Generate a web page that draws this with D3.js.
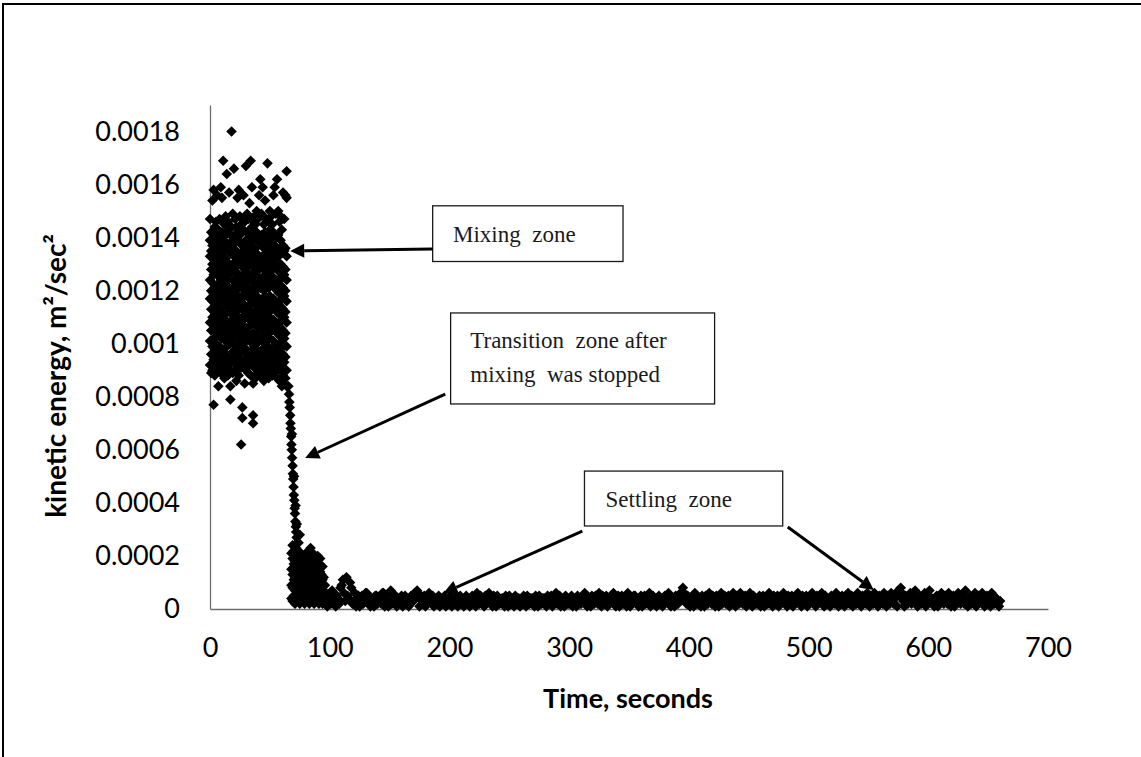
<!DOCTYPE html>
<html>
<head>
<meta charset="utf-8">
<script src="https://cdn.jsdelivr.net/npm/d3@7"></script>
<style>
  html, body { margin: 0; padding: 0; background: #fff; }
  svg { display: block; }
</style>
</head>
<body>
<div id="chart"></div>
<script>
'use strict';

// kinetic energy values below are in units of 1e-5 m2/sec2

// mixing zone: [time, [values at that second]]
var mixingZone = [
  [0, [92, 101, 108, 117, 124, 133, 139, 147]],
  [1, [96, 105, 113, 120, 128, 135, 142, 89]],
  [2, [90, 99, 110, 116, 123, 130, 137, 154]],
  [3, [94, 102, 107, 119, 126, 134, 141, 158, 77]],
  [4, [88, 97, 106, 114, 121, 129, 136, 144]],
  [5, [93, 100, 111, 118, 127, 132, 140, 146]],
  [6, [91, 104, 109, 115, 122, 131, 138, 156]],
  [7, [84, 95, 103, 112, 120, 128, 135, 143]],
  [8, [92, 99, 108, 117, 125, 133, 140, 147]],
  [9, [89, 98, 106, 113, 124, 130, 137, 159]],
  [10, [94, 102, 110, 119, 126, 134, 142, 155]],
  [11, [90, 97, 105, 116, 123, 129, 139, 169]],
  [12, [87, 96, 104, 111, 121, 128, 136, 145]],
  [13, [93, 101, 109, 118, 125, 132, 141, 148]],
  [14, [91, 99, 107, 114, 122, 131, 138, 164]],
  [15, [88, 95, 106, 115, 124, 130, 137, 146]],
  [16, [92, 100, 108, 117, 126, 135, 143, 157]],
  [17, [79, 84, 90, 103, 112, 120, 127, 134, 141]],
  [18, [94, 102, 111, 119, 128, 136, 144, 180]],
  [19, [89, 97, 105, 113, 121, 129, 139, 149]],
  [20, [93, 100, 109, 116, 124, 133, 140, 166]],
  [21, [90, 98, 107, 115, 123, 131, 138, 147]],
  [22, [86, 95, 104, 112, 120, 127, 135, 144]],
  [23, [92, 101, 110, 118, 126, 134, 142, 155]],
  [24, [88, 96, 106, 114, 122, 130, 139, 158]],
  [25, [94, 103, 108, 117, 125, 132, 141, 148]],
  [26, [62, 91, 99, 107, 116, 124, 133, 145]],
  [27, [72, 76, 97, 105, 113, 121, 129, 137]],
  [28, [93, 100, 109, 118, 126, 135, 143, 156]],
  [29, [85, 92, 102, 111, 119, 128, 136, 146]],
  [30, [90, 98, 106, 114, 123, 131, 139, 167]],
  [31, [95, 103, 112, 120, 127, 134, 142, 149]],
  [32, [89, 96, 104, 113, 121, 129, 138, 147]],
  [33, [92, 101, 109, 117, 125, 133, 140, 153]],
  [34, [88, 97, 107, 115, 124, 131, 137, 169]],
  [35, [94, 102, 110, 118, 126, 135, 144, 159]],
  [36, [70, 73, 85, 93, 104, 112, 121, 130, 139, 146]],
  [37, [91, 99, 108, 116, 123, 132, 141, 148]],
  [38, [87, 95, 103, 112, 120, 128, 136, 145]],
  [39, [93, 100, 109, 118, 127, 134, 142, 150]],
  [40, [89, 97, 106, 114, 122, 130, 139, 147]],
  [41, [92, 101, 110, 117, 125, 133, 140, 156]],
  [42, [88, 96, 105, 113, 121, 129, 138, 162]],
  [43, [94, 102, 108, 116, 124, 132, 141, 149]],
  [44, [90, 98, 107, 115, 123, 131, 139, 159]],
  [45, [86, 95, 103, 111, 120, 128, 136, 145]],
  [46, [93, 100, 109, 118, 126, 134, 142, 154]],
  [47, [89, 97, 106, 114, 122, 130, 138, 147]],
  [48, [91, 99, 108, 116, 124, 133, 141, 168]],
  [49, [87, 96, 104, 112, 121, 129, 137, 146]],
  [50, [94, 102, 110, 118, 127, 135, 143, 150]],
  [51, [90, 98, 107, 115, 123, 131, 139, 148]],
  [52, [88, 95, 105, 113, 122, 130, 138, 145]],
  [53, [92, 101, 109, 117, 125, 134, 142, 156]],
  [54, [89, 97, 106, 114, 121, 129, 137, 159]],
  [55, [93, 100, 108, 116, 124, 132, 140, 149]],
  [56, [87, 96, 104, 112, 120, 128, 136, 162]],
  [57, [91, 99, 107, 115, 124, 133, 141, 150]],
  [58, [86, 94, 103, 111, 119, 127, 135, 146]],
  [59, [90, 98, 106, 114, 122, 130, 139, 148]],
  [60, [84, 92, 101, 109, 117, 125, 134, 143]],
  [61, [88, 96, 105, 113, 121, 129, 137, 157]],
  [62, [85, 93, 102, 110, 118, 126, 135, 147]],
  [63, [87, 95, 104, 112, 120, 128, 136, 156]],
  [64, [84, 90, 99, 108, 116, 124, 133, 155, 165]]
];

// drop after the mixer was stopped: [time, value]
var transitionZone = [
  [65.5, 84], [66, 81], [66.3, 78], [66.6, 76], [67, 73], [67.2, 70],
  [67.5, 68], [67.8, 65], [68.4, 66], [68, 62], [68.3, 60], [68.6, 57], [69, 54],
  [69.2, 51], [69.5, 49], [70.2, 50], [69.8, 46], [70, 43], [70.4, 41], [70.7, 38],
  [71.5, 39], [71, 36], [71.3, 33], [71.7, 31], [72.5, 32], [72, 29], [72.4, 27], [72.8, 25]
];

// low cluster right after the drop: [time, [values]]
var transitionFloor = [
  [68, [4, 9, 15, 21]], [69, [3, 8, 13, 19, 24]], [70, [5, 11, 17, 22]],
  [71, [2, 7, 12, 18]], [72, [4, 10, 16, 23]], [73, [3, 8, 14, 20]],
  [74, [5, 11, 17, 25]], [75, [2, 7, 13, 19, 28]], [76, [4, 9, 15, 21]],
  [77, [3, 10, 16]], [78, [5, 8, 14, 19]], [79, [2, 7, 12, 18]],
  [80, [4, 10, 15, 21]], [81, [3, 8, 13, 17]], [82, [5, 11, 16, 20]],
  [83, [2, 7, 12, 19]], [84, [4, 9, 14, 20, 23]], [85, [3, 8, 13, 18]],
  [86, [5, 10, 15, 21]], [87, [2, 7, 12, 17]], [88, [4, 9, 14, 19]],
  [89, [3, 8, 13, 16]], [90, [5, 10, 16, 20]], [91, [2, 7, 12, 17]],
  [92, [4, 9, 14, 19]], [93, [3, 8, 13]], [94, [2, 6, 11, 16]],
  [95, [3, 7, 12]], [96, [2, 5, 9]]
];

// settling zone, odd seconds: [time, value]
var settlingZone = [
  [97, 3], [99, 5], [101, 2], [103, 6], [105, 1], [107, 4], [109, 8], [111, 11], [113, 3], [115, 5],
  [117, 10], [119, 2], [121, 6], [123, 4], [125, 1], [127, 5], [129, 3], [131, 6], [133, 2], [135, 4],
  [137, 1], [139, 5], [141, 3], [143, 2], [145, 6], [147, 4], [149, 1], [151, 7], [153, 3], [155, 5],
  [157, 2], [159, 4], [161, 1], [163, 5], [165, 3], [167, 2], [169, 4], [171, 6], [173, 7], [175, 1],
  [177, 3], [179, 5], [181, 2], [183, 6], [185, 4], [187, 1], [189, 3], [191, 5], [193, 2], [195, 4],
  [197, 1], [199, 3], [201, 5], [203, 2], [205, 4], [207, 1], [209, 5], [211, 3], [213, 2], [215, 4],
  [217, 1], [219, 5], [221, 3], [223, 6], [225, 2], [227, 4], [229, 1], [231, 3], [233, 6], [235, 2],
  [237, 5], [239, 1], [241, 4], [243, 3], [245, 2], [247, 5], [249, 1], [251, 4], [253, 3], [255, 5],
  [257, 2], [259, 1], [261, 4], [263, 3], [265, 5], [267, 2], [269, 4], [271, 1], [273, 3], [275, 5],
  [277, 2], [279, 4], [281, 1], [283, 3], [285, 5], [287, 2], [289, 6], [291, 4], [293, 1], [295, 3],
  [297, 5], [299, 2], [301, 4], [303, 1], [305, 3], [307, 5], [309, 2], [311, 4], [313, 6], [315, 1],
  [317, 3], [319, 5], [321, 2], [323, 4], [325, 6], [327, 1], [329, 3], [331, 5], [333, 2], [335, 4],
  [337, 6], [339, 1], [341, 5], [343, 3], [345, 2], [347, 4], [349, 6], [351, 1], [353, 3], [355, 5],
  [357, 2], [359, 4], [361, 1], [363, 5], [365, 3], [367, 6], [369, 2], [371, 4], [373, 1], [375, 5],
  [377, 3], [379, 2], [381, 4], [383, 6], [385, 1], [387, 3], [389, 5], [391, 2], [393, 6], [395, 8],
  [397, 3], [399, 5], [401, 1], [403, 4], [405, 6], [407, 2], [409, 3], [411, 5], [413, 1], [415, 4],
  [417, 6], [419, 2], [421, 3], [423, 5], [425, 1], [427, 6], [429, 4], [431, 2], [433, 5], [435, 3],
  [437, 6], [439, 1], [441, 4], [443, 6], [445, 2], [447, 5], [449, 3], [451, 6], [453, 1], [455, 4],
  [457, 2], [459, 5], [461, 3], [463, 1], [465, 4], [467, 6], [469, 2], [471, 5], [473, 3], [475, 1],
  [477, 4], [479, 6], [481, 2], [483, 5], [485, 3], [487, 1], [489, 4], [491, 6], [493, 2], [495, 5],
  [497, 3], [499, 1], [501, 4], [503, 6], [505, 2], [507, 5], [509, 3], [511, 6], [513, 1], [515, 4],
  [517, 2], [519, 5], [521, 3], [523, 6], [525, 1], [527, 4], [529, 2], [531, 5], [533, 6], [535, 3],
  [537, 1], [539, 4], [541, 6], [543, 2], [545, 5], [547, 3], [549, 6], [551, 1], [553, 4], [555, 6],
  [557, 2], [559, 5], [561, 3], [563, 6], [565, 1], [567, 4], [569, 6], [571, 2], [573, 5], [575, 7],
  [577, 8], [579, 3], [581, 5], [583, 2], [585, 6], [587, 4], [589, 7], [591, 1], [593, 5], [595, 3],
  [597, 6], [599, 2], [601, 7], [603, 4], [605, 1], [607, 5], [609, 3], [611, 6], [613, 2], [615, 4],
  [617, 6], [619, 1], [621, 5], [623, 3], [625, 6], [627, 2], [629, 4], [631, 7], [633, 1], [635, 5],
  [637, 3], [639, 6], [641, 2], [643, 4], [645, 6], [647, 1], [649, 5], [651, 3], [653, 6], [655, 2],
  [657, 4], [659, 1]
];

// settling zone, even seconds: [time, value]
var settlingZoneEven = [
  [98, 1], [100, 4], [102, 7], [104, 3], [106, 5], [108, 2], [110, 9], [112, 6], [114, 12], [116, 4],
  [118, 8], [120, 3], [122, 1], [124, 5], [126, 3], [128, 2], [130, 6], [132, 4], [134, 1], [136, 3],
  [138, 5], [140, 2], [142, 4], [144, 6], [146, 1], [148, 3], [150, 6], [152, 2], [154, 4], [156, 1],
  [158, 3], [160, 5], [162, 2], [164, 4], [166, 1], [168, 5], [170, 3], [172, 5], [174, 6], [176, 4],
  [178, 2], [180, 1], [182, 4], [184, 3], [186, 5], [188, 2], [190, 4], [192, 1], [194, 3], [196, 5],
  [198, 2], [200, 4], [202, 1], [204, 3], [206, 5], [208, 2], [210, 4], [212, 1], [214, 5], [216, 3],
  [218, 2], [220, 4], [222, 1], [224, 3], [226, 5], [228, 2], [230, 5], [232, 3], [234, 4], [236, 1],
  [238, 3], [240, 5], [242, 2], [244, 4], [246, 1], [248, 3], [250, 5], [252, 2], [254, 1], [256, 3],
  [258, 4], [260, 2], [262, 5], [264, 1], [266, 3], [268, 4], [270, 2], [272, 5], [274, 1], [276, 3],
  [278, 4], [280, 2], [282, 5], [284, 3], [286, 1], [288, 4], [290, 2], [292, 5], [294, 3], [296, 1],
  [298, 4], [300, 2], [302, 5], [304, 3], [306, 1], [308, 4], [310, 2], [312, 5], [314, 3], [316, 4],
  [318, 1], [320, 3], [322, 5], [324, 2], [326, 4], [328, 5], [330, 2], [332, 1], [334, 3], [336, 5],
  [338, 2], [340, 4], [342, 1], [344, 5], [346, 3], [348, 1], [350, 4], [352, 2], [354, 5], [356, 3],
  [358, 1], [360, 5], [362, 3], [364, 2], [366, 4], [368, 1], [370, 5], [372, 3], [374, 2], [376, 4],
  [378, 1], [380, 5], [382, 3], [384, 2], [386, 4], [388, 1], [390, 4], [392, 3], [394, 5], [396, 6],
  [398, 2], [400, 4], [402, 3], [404, 1], [406, 5], [408, 4], [410, 1], [412, 3], [414, 5], [416, 2],
  [418, 4], [420, 5], [422, 1], [424, 3], [426, 4], [428, 2], [430, 5], [432, 3], [434, 1], [436, 4],
  [438, 3], [440, 5], [442, 2], [444, 3], [446, 4], [448, 1], [450, 4], [452, 3], [454, 5], [456, 2],
  [458, 4], [460, 1], [462, 5], [464, 3], [466, 2], [468, 4], [470, 1], [472, 3], [474, 5], [476, 2],
  [478, 3], [480, 4], [482, 1], [484, 3], [486, 5], [488, 2], [490, 3], [492, 4], [494, 1], [496, 3],
  [498, 5], [500, 2], [502, 3], [504, 4], [506, 1], [508, 3], [510, 4], [512, 2], [514, 5], [516, 3],
  [518, 1], [520, 4], [522, 2], [524, 4], [526, 3], [528, 5], [530, 1], [532, 3], [534, 2], [536, 5],
  [538, 3], [540, 2], [542, 4], [544, 1], [546, 3], [548, 2], [550, 4], [552, 5], [554, 2], [556, 4],
  [558, 1], [560, 3], [562, 2], [564, 4], [566, 5], [568, 2], [570, 3], [572, 4], [574, 1], [576, 5],
  [578, 6], [580, 1], [582, 4], [584, 3], [586, 2], [588, 5], [590, 4], [592, 3], [594, 2], [596, 4],
  [598, 1], [600, 5], [602, 3], [604, 2], [606, 4], [608, 1], [610, 4], [612, 3], [614, 5], [616, 2],
  [618, 4], [620, 3], [622, 1], [624, 4], [626, 3], [628, 5], [630, 2], [632, 4], [634, 3], [636, 2],
  [638, 4], [640, 1], [642, 5], [644, 3], [646, 2], [648, 4], [650, 2], [652, 1], [654, 4], [656, 3],
  [658, 2], [660, 3]
];

var xTicks = [0, 100, 200, 300, 400, 500, 600, 700];
var yTicks = [0, 0.0002, 0.0004, 0.0006, 0.0008, 0.001, 0.0012, 0.0014, 0.0016, 0.0018];
var yTickLabels = ['0', '0.0002', '0.0004', '0.0006', '0.0008', '0.001', '0.0012', '0.0014', '0.0016', '0.0018'];

var xTitle = 'Time, seconds';
var yTitle = 'kinetic energy, m\u00b2/sec\u00b2';

// callouts, placed in data units (time, kinetic energy)
var callouts = [
  { lines: ['Mixing  zone'], box: [186, 345, 0.00152, 0.00131], text: [203, 0.001385],
    arrows: [[[186, 0.001357], [67, 0.00135]]] },
  { lines: ['Transition  zone after', 'mixing  was stopped'], box: [201, 421.5, 0.001116, 0.000773],
    text: [217.4, 0.000984], arrows: [[[196.5, 0.00081], [79.5, 0.000569]]] },
  { lines: ['Settling  zone'], box: [312.8, 478.4, 0.00052, 0.000313], text: [330.4, 0.000385],
    arrows: [[[311, 0.000294], [195, 0.00006]], [[482.6, 0.000309], [554.5, 0.0000716]]] }
];

var unit = 1e-5;
var points = [];
function addColumns(list) {
  list.forEach(function(c) {
    c[1].forEach(function(v) { points.push({ t: c[0], ke: v * unit }); });
  });
}
function addPairs(list) {
  list.forEach(function(p) { points.push({ t: p[0], ke: p[1] * unit }); });
}
addColumns(mixingZone);
addPairs(transitionZone);
addColumns(transitionFloor);
addPairs(settlingZone);
addPairs(settlingZoneEven);

var width = 1141, height = 757;

var svg = d3.select('#chart').append('svg')
  .attr('width', width)
  .attr('height', height);

svg.append('rect')
  .attr('width', width).attr('height', height)
  .attr('fill', '#fff');

// outer frame (right and bottom edges are cut off in the original)
svg.append('rect')
  .attr('x', 3).attr('y', 4)
  .attr('width', 1400).attr('height', 1000)
  .attr('fill', 'none')
  .attr('stroke', '#000')
  .attr('stroke-width', 2);

var x = d3.scaleLinear().domain([0, 700]).range([210, 1048]);
var y = d3.scaleLinear().domain([0, 0.0019]).range([609, 105]);

var xAxis = svg.append('g')
  .attr('transform', 'translate(0,' + y(0) + ')')
  .call(d3.axisBottom(x).tickValues(xTicks).tickSize(0).tickPadding(29));

var yAxis = svg.append('g')
  .attr('transform', 'translate(' + x(0) + ',0)')
  .call(d3.axisLeft(y).tickValues(yTicks).tickSize(0).tickPadding(30)
    .tickFormat(function(d, i) { return yTickLabels[i]; }));

[xAxis, yAxis].forEach(function(g) {
  g.attr('font-family', 'Lato, "Open Sans", sans-serif').attr('font-size', 27);
  g.select('.domain').attr('stroke', '#6f6f6f').attr('stroke-width', 1.3);
  g.selectAll('.tick text').attr('fill', '#000');
});

// points
var diamond = d3.symbol().type(d3.symbolSquare).size(56);
svg.append('g').selectAll('path')
  .data(points)
  .enter().append('path')
  .attr('d', diamond)
  .attr('transform', function(d) {
    return 'translate(' + x(d.t) + ',' + y(d.ke) + ') rotate(45)';
  })
  .attr('fill', '#000');

// axis titles
svg.append('text')
  .attr('x', 628).attr('y', 708)
  .attr('text-anchor', 'middle')
  .attr('font-family', 'Lato, "Open Sans", sans-serif')
  .attr('font-weight', 'bold')
  .attr('font-size', 27)
  .text(xTitle);

svg.append('text')
  .attr('transform', 'translate(66,376) rotate(-90)')
  .attr('text-anchor', 'middle')
  .attr('font-family', 'Lato, "Open Sans", sans-serif')
  .attr('font-weight', 'bold')
  .attr('font-size', 28)
  .text(yTitle);

// callouts
var ann = svg.append('g');

function arrow(from, to) {
  var x0 = x(from[0]), y0 = y(from[1]), x1 = x(to[0]), y1 = y(to[1]);
  var dx = x1 - x0, dy = y1 - y0, len = Math.sqrt(dx * dx + dy * dy);
  var ux = dx / len, uy = dy / len;
  var head = 14, half = 7;
  var bx = x1 - ux * head, by = y1 - uy * head;
  ann.append('line')
    .attr('x1', x0).attr('y1', y0).attr('x2', bx).attr('y2', by)
    .attr('stroke', '#000').attr('stroke-width', 3);
  ann.append('path')
    .attr('d', 'M' + x1 + ',' + y1 +
      'L' + (bx - uy * half) + ',' + (by + ux * half) +
      'L' + (bx + uy * half) + ',' + (by - ux * half) + 'Z')
    .attr('fill', '#000');
}

callouts.forEach(function(c) {
  ann.append('rect')
    .attr('x', x(c.box[0])).attr('y', y(c.box[2]))
    .attr('width', x(c.box[1]) - x(c.box[0]))
    .attr('height', y(c.box[3]) - y(c.box[2]))
    .attr('fill', '#fff')
    .attr('stroke', '#1a1a1a')
    .attr('stroke-width', 1.3);
  var t = ann.append('text')
    .attr('x', x(c.text[0])).attr('y', y(c.text[1]))
    .attr('font-family', '"Liberation Serif", "Times New Roman", serif')
    .attr('font-size', 23)
    .attr('fill', '#1a1a1a')
    .style('white-space', 'pre');
  c.lines.forEach(function(l, i) {
    t.append('tspan')
      .attr('x', x(c.text[0]))
      .attr('dy', i === 0 ? 0 : 34)
      .text(l);
  });
  c.arrows.forEach(function(a) { arrow(a[0], a[1]); });
});
</script>
</body>
</html>
